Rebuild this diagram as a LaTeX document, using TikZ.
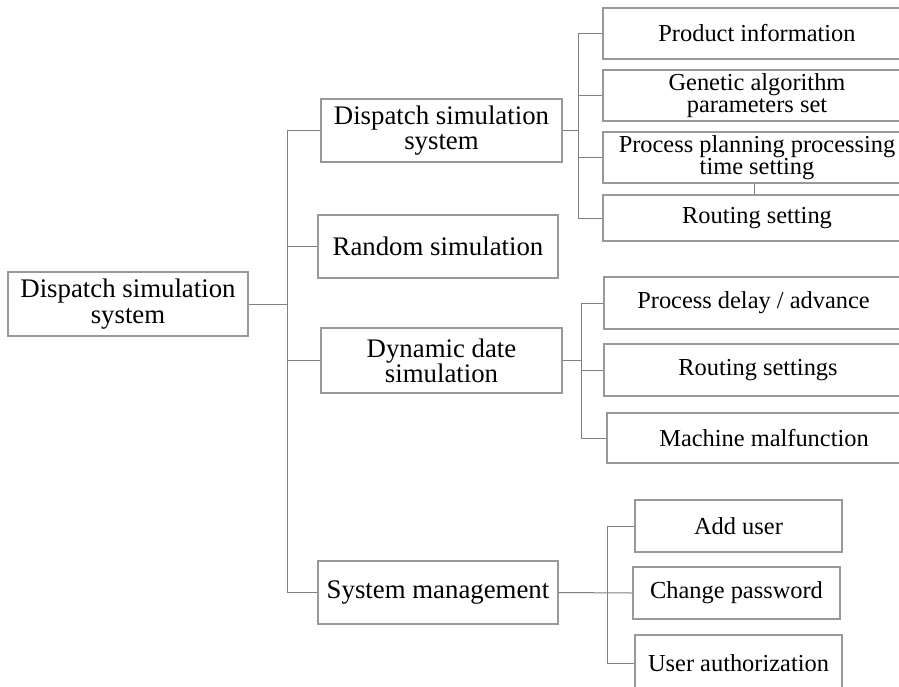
\documentclass[tikz,border=0pt]{standalone}
\usepackage{fontspec}
\setmainfont{Liberation Serif}
\tikzset{
  boxst/.style={draw=black!40, line width=0.8pt, rectangle, inner sep=0pt, align=center, text=black},
  big/.style={font=\fontsize{20.1}{19}\selectfont},
  small/.style={font=\fontsize{18.3}{17}\selectfont},
  conn/.style={draw=black!50, line width=0.75pt}
}
\newcommand\mybox[7]{\node[boxst,#1, minimum width={(#5-#4)*0.75pt}, minimum height={(#7-#6)*0.75pt}] (#2) at ({(#4+#5)/2},{(#6+#7)/2}) {#3};}
\begin{document}
\begin{tikzpicture}[x=0.75pt,y=-0.75pt]
\useasboundingbox (0,0) rectangle (899,686);
\clip (0,0) rectangle (899,686);
% level 1
\mybox{big}{root}{Dispatch simulation\\system}{8}{248}{272}{336}
% level 2
\mybox{big}{la}{Dispatch simulation\\system}{321}{562}{99}{162}
\mybox{big}{lb}{Random simulation}{318}{558}{215}{278}
\mybox{big}{lc}{Dynamic date\\simulation}{321}{562}{328}{393}
\mybox{big}{ld}{System management}{318}{558}{561}{624}
% group 1
\mybox{small}{ga}{Product information}{603}{911}{8}{59}
\mybox{small}{gb}{Genetic algorithm\\parameters set}{603}{911}{70}{121}
\mybox{small}{gc}{Process planning processing\\time setting}{603}{911}{132}{183}
\mybox{small}{gd}{Routing setting}{603}{911}{195}{241}
% group 2
\mybox{small}{ha}{Process delay / advance}{604}{903}{277}{329}
\mybox{small}{hb}{Routing settings}{604}{912}{344}{396}
\mybox{small}{hc}{Machine malfunction}{607}{921}{413}{463}
% group 3
\mybox{small}{ka}{Add user}{635}{842}{500}{552}
\mybox{small}{kb}{Change password}{633}{840}{567}{619}
\mybox{small}{kc}{User authorization}{635}{842}{635}{691}
% connector x positions
\coordinate (xt) at (287,0);
\coordinate (xg) at (578,0);
\coordinate (xh) at (581,0);
\coordinate (xk) at (607,0);
\coordinate (xm) at (754,0);
% trunk
\draw[conn] (root.east) -- (root.east -| xt);
\draw[conn] (la.west -| xt) -- (ld.west -| xt);
\foreach \n in {la,lb,lc,ld} \draw[conn] (\n.west -| xt) -- (\n.west);
% group 1
\draw[conn] (la.east) -- (la.east -| xg);
\draw[conn] (ga.west -| xg) -- (gd.west -| xg);
\foreach \n in {ga,gb,gc,gd} \draw[conn] (\n.west -| xg) -- (\n.west);
\draw[conn] (gc.south -| xm) -- (gd.north -| xm);
% group 2
\draw[conn] (lc.east) -- (lc.east -| xh);
\draw[conn] (ha.west -| xh) -- (hc.west -| xh);
\foreach \n in {ha,hb,hc} \draw[conn] (\n.west -| xh) -- (\n.west);
% group 3
\draw[conn] (ld.east) -- (kb.west);
\draw[conn] (ka.west -| xk) -- (kc.west -| xk);
\foreach \n in {ka,kc} \draw[conn] (\n.west -| xk) -- (\n.west);
\end{tikzpicture}
\end{document}
